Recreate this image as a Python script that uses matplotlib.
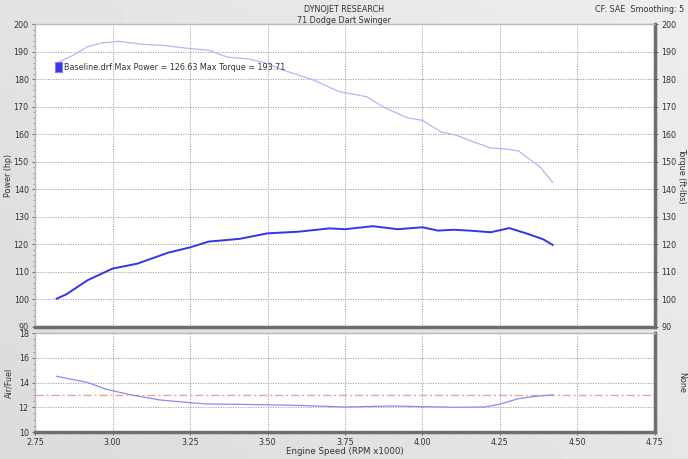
import numpy as np
import matplotlib
matplotlib.use("Agg")
from matplotlib import pyplot as plt
from matplotlib.ticker import MultipleLocator

# values
rpm_pw = [2.82, 2.85, 2.92, 3.00, 3.08, 3.18, 3.25, 3.31, 3.41, 3.50, 3.60, 3.70,
          3.75, 3.84, 3.92, 4.00, 4.05, 4.10, 4.15, 4.22, 4.28, 4.34, 4.39, 4.42]
power = [100.3, 101.8, 107.0, 111.2, 113.0, 117.0, 118.9, 121.0, 122.0, 124.0, 124.6, 125.8,
         125.5, 126.6, 125.5, 126.2, 125.0, 125.3, 125.0, 124.4, 125.9, 123.8, 121.8, 119.8]

rpm_tq = [2.82, 2.87, 2.92, 2.97, 3.02, 3.10, 3.17, 3.24, 3.31, 3.37, 3.44, 3.50,
          3.55, 3.65, 3.73, 3.82, 3.88, 3.95, 4.00, 4.06, 4.11, 4.15, 4.22, 4.28,
          4.31, 4.38, 4.42]
torque = [185.8, 188.5, 191.8, 193.2, 193.7, 192.6, 192.2, 191.2, 190.5, 188.0, 187.3, 185.6,
          183.3, 179.6, 175.5, 173.6, 169.5, 166.0, 165.0, 160.8, 159.6, 157.8, 155.0, 154.5,
          153.9, 148.0, 142.5]

rpm_af = [2.82, 2.92, 2.98, 3.06, 3.15, 3.25, 3.30, 3.45, 3.60, 3.75, 3.90, 4.00,
          4.10, 4.20, 4.25, 4.31, 4.37, 4.42]
afr = [14.5, 14.0, 13.45, 13.0, 12.6, 12.37, 12.27, 12.22, 12.15, 12.02, 12.1, 12.05,
       12.0, 12.02, 12.25, 12.7, 12.9, 13.0]
afr_ref = 13.0

fig = plt.figure(figsize=(6.88, 4.59), dpi=100)

# light grey gradient background
bg = fig.add_axes([0, 0, 1, 1], zorder=-10)
gx, gy = np.meshgrid(np.linspace(0, 1, 50), np.linspace(0, 1, 50))
bg.imshow(0.86 + 0.07 * (gx * 0.6 + (1 - gy) * 0.4), cmap="gray", vmin=0, vmax=1,
          aspect="auto", extent=[0, 1, 0, 1], origin="upper")
bg.axis("off")

fs = 5.8
tc = "#333333"


def style(ax):
    ax.set_facecolor("white")
    ax.grid(True, which="major", color="#999999", linestyle=(0, (1.5, 1.5)), linewidth=0.6)
    for s in ["top", "left"]:
        ax.spines[s].set_color("#b8b8b8")
        ax.spines[s].set_linewidth(1)
    for s in ["right", "bottom"]:
        ax.spines[s].set_color("#6e6e6e")
        ax.spines[s].set_linewidth(2.5)
    ax.tick_params(labelsize=fs, colors="#555555", labelcolor=tc, length=2.5, width=0.6, pad=2)
    ax.tick_params(which="minor", length=1.5, width=0.5, colors="#777777")


ax1 = fig.add_axes([0.0509, 0.2876, 0.9011, 0.6601])
style(ax1)
ax1.set_xlim(2.75, 4.75)
ax1.set_ylim(90, 200)
ax1.xaxis.set_major_locator(MultipleLocator(0.25))
ax1.xaxis.set_minor_locator(MultipleLocator(0.05))
ax1.yaxis.set_major_locator(MultipleLocator(10))
ax1.yaxis.set_minor_locator(MultipleLocator(2))
ax1.tick_params(axis="x", which="both", labelbottom=False, length=0)
ax1.plot(rpm_tq, torque, color="#b4b4fa", linewidth=0.9)
ax1.plot(rpm_pw, power, color="#3535e6", linewidth=1.4)
ax1.set_ylabel("Power (hp)", fontsize=fs, color=tc, va="center")
ax1.yaxis.set_label_coords(-0.042, 0.5)

ax1r = ax1.twinx()
ax1r.set_ylim(90, 200)
ax1r.yaxis.set_major_locator(MultipleLocator(10))
ax1r.yaxis.set_minor_locator(MultipleLocator(2))
ax1r.tick_params(labelsize=fs, labelcolor=tc, colors="#555555", length=2.5, width=0.6, pad=2)
ax1r.tick_params(which="minor", length=1.5, width=0.5, colors="#777777")
for s in ["top", "left", "right", "bottom"]:
    ax1r.spines[s].set_visible(False)
ax1r.set_ylabel("Torque (ft-lbs)", fontsize=fs, color=tc, rotation=270, va="center")
ax1r.yaxis.set_label_coords(1.043, 0.5)

# legend box
ax1.add_patch(plt.Rectangle((0.033, 0.84), 0.011, 0.033, transform=ax1.transAxes,
                            facecolor="#3535e6", edgecolor="#8080f0", linewidth=0.8, zorder=5))
ax1.text(0.046, 0.856, "Baseline.drf Max Power = 126.63 Max Torque = 193.71",
         transform=ax1.transAxes, fontsize=fs, color=tc, va="center", zorder=5)

ax2 = fig.add_axes([0.0509, 0.0588, 0.9011, 0.2157])
style(ax2)
ax2.set_xlim(2.75, 4.75)
ax2.set_ylim(10, 18)
ax2.xaxis.set_major_locator(MultipleLocator(0.25))
ax2.xaxis.set_minor_locator(MultipleLocator(0.05))
ax2.yaxis.set_major_locator(MultipleLocator(2))
ax2.yaxis.set_minor_locator(MultipleLocator(0.5))
ax2.xaxis.set_major_formatter(matplotlib.ticker.FormatStrFormatter("%.2f"))
ax2.axhline(afr_ref, color="#f4a0a0", linestyle=(0, (6, 2, 1.5, 2)), linewidth=1.0)
ax2.plot(rpm_af, afr, color="#8a8af2", linewidth=0.9)
ax2.set_ylabel("Air/Fuel", fontsize=fs, color=tc, va="center")
ax2.yaxis.set_label_coords(-0.042, 0.5)
ax2.set_xlabel("Engine Speed (RPM x1000)", fontsize=fs + 0.4, color=tc, va="center")
ax2.xaxis.set_label_coords(0.5, -0.2)
ax2.text(1.043, 0.5, "None", transform=ax2.transAxes, fontsize=fs, color=tc,
         rotation=270, va="center", ha="center")

fig.text(0.5, 0.989, "DYNOJET RESEARCH", fontsize=fs, color=tc, ha="center", va="top")
fig.text(0.5, 0.965, "71 Dodge Dart Swinger", fontsize=fs, color=tc, ha="center", va="top")
fig.text(0.995, 0.989, "CF: SAE  Smoothing: 5", fontsize=fs, color=tc, ha="right", va="top")

fig.savefig("out.png", dpi=100)
